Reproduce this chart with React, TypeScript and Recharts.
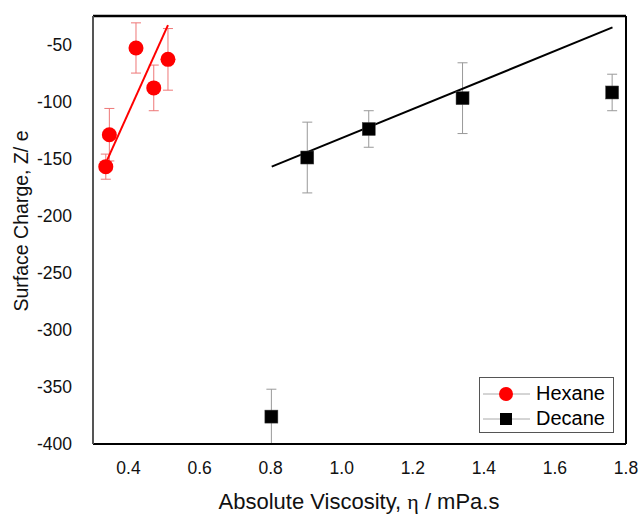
import { ComposedChart, Scatter, ErrorBar, XAxis, YAxis } from 'recharts';

const hexaneX = [0.336, 0.346, 0.421, 0.471, 0.511];
const hexaneY = [-157, -129, -53, -88, -63];
const hexaneErr = [11, 23, 22, 20, 27];

const decaneX = [0.802, 0.903, 1.076, 1.34, 1.761];
const decaneY = [-376, -149, -124, -97, -92];
const decaneErr = [24, 31, 16, 31, 16];

const hexaneFitX = [0.34, 0.511];
const hexaneFitY = [-151, -33];
const decaneFitX = [0.803, 1.762];
const decaneFitY = [-157, -35];

const xTicks = [0.4, 0.6, 0.8, 1.0, 1.2, 1.4, 1.6, 1.8];
const yTicks = [-400, -350, -300, -250, -200, -150, -100, -50];

const hexane = hexaneX.map((x, i) => ({ x, y: hexaneY[i], err: hexaneErr[i] }));
const decane = decaneX.map((x, i) => ({ x, y: decaneY[i], err: decaneErr[i] }));
const hexaneFit = hexaneFitX.map((x, i) => ({ x, y: hexaneFitY[i] }));
const decaneFit = decaneFitX.map((x, i) => ({ x, y: decaneFitY[i] }));

const font = '"Liberation Sans", Arial, sans-serif';

const Dot = (p: any) => <circle cx={p.cx} cy={p.cy} r={7.5} fill="#ff0000" />;
const Square = (p: any) => (
  <rect x={p.cx - 6.5} y={p.cy - 6.5} width={13} height={13} fill="#000" stroke="#444" strokeWidth={0.5} />
);
const NoShape = () => <g />;

function LegendBox() {
  const rows = [
    { name: 'Hexane', shape: <circle cx={24} cy={10} r={7} fill="#ff0000" /> },
    { name: 'Decane', shape: <rect x={18} y={4} width={12} height={12} fill="#000" /> },
  ];
  return (
    <div
      style={{
        position: 'absolute',
        left: 479,
        top: 377,
        width: 135,
        height: 56,
        border: '1px solid #555',
        background: '#fff',
        fontFamily: font,
        fontSize: 20,
        boxSizing: 'border-box',
        paddingTop: 3,
      }}
    >
      {rows.map((r) => (
        <div key={r.name} style={{ display: 'flex', alignItems: 'center', height: 25 }}>
          <svg width={54} height={20} style={{ marginLeft: 2 }}>
            <line x1={1} y1={10} x2={48} y2={10} stroke="#aaa" strokeWidth={1} />
            {r.shape}
          </svg>
          <span style={{ color: '#000' }}>{r.name}</span>
        </div>
      ))}
    </div>
  );
}

export default function App() {
  return (
    <div style={{ position: 'absolute', left: 0, top: 0, width: 641, height: 515, background: '#fff' }}>
      <ComposedChart width={641} height={515} margin={{ top: 15, right: 14, bottom: 0, left: 0 }}>
        <XAxis
          xAxisId="b"
          dataKey="x"
          type="number"
          domain={[0.3, 1.8]}
          ticks={xTicks}
          tickFormatter={(v: number) => v.toFixed(1)}
          tickLine={false}
          tickMargin={12}
          height={71}
          axisLine={{ stroke: '#000', strokeWidth: 2 }}
          tick={{ fill: '#111', fontSize: 17.5, fontFamily: font }}
          allowDataOverflow
          label={() => (
            <text x={359} y={509} textAnchor="middle" fill="#111" fontSize={22} fontFamily={font}>
              Absolute Viscosity, <tspan fontFamily='"Liberation Serif", serif'>η</tspan> / mPa.s
            </text>
          )}
        />
        <XAxis
          xAxisId="t"
          dataKey="x"
          orientation="top"
          type="number"
          domain={[0.3, 1.8]}
          tick={false}
          tickLine={false}
          height={1}
          allowDataOverflow
          axisLine={{ stroke: '#000', strokeWidth: 2.5 }}
        />
        <YAxis
          yAxisId="l"
          dataKey="y"
          type="number"
          domain={[-400, -25]}
          ticks={yTicks}
          tickLine={false}
          tickMargin={15}
          width={93}
          axisLine={{ stroke: '#555', strokeWidth: 2 }}
          tick={{ fill: '#111', fontSize: 17.5, fontFamily: font }}
          allowDataOverflow
          label={() => (
            <text
              x={21}
              y={221}
              transform="rotate(-90 21 221)"
              textAnchor="middle"
              dominantBaseline="central"
              fill="#111"
              fontSize={19.5}
              fontFamily={font}
            >
              Surface Charge, Z/ e
            </text>
          )}
        />
        <YAxis
          yAxisId="r"
          dataKey="y"
          orientation="right"
          type="number"
          domain={[-400, -25]}
          tick={false}
          tickLine={false}
          width={1}
          allowDataOverflow
          axisLine={{ stroke: '#000', strokeWidth: 2 }}
        />
        <Scatter xAxisId="t" yAxisId="r" data={hexaneFit} line={{ stroke: '#ff0000', strokeWidth: 2 }} shape={NoShape} isAnimationActive={false} />
        <Scatter xAxisId="b" yAxisId="l" data={decaneFit} line={{ stroke: '#000', strokeWidth: 2 }} shape={NoShape} isAnimationActive={false} />
        <Scatter xAxisId="b" yAxisId="l" data={hexane} shape={Dot} isAnimationActive={false}>
          <ErrorBar dataKey="err" direction="y" width={5} stroke="#ee7777" strokeWidth={1} isAnimationActive={false} />
        </Scatter>
        <Scatter xAxisId="b" yAxisId="l" data={decane} shape={Square} isAnimationActive={false}>
          <ErrorBar dataKey="err" direction="y" width={5} stroke="#999" strokeWidth={1} isAnimationActive={false} />
        </Scatter>
      </ComposedChart>
      <LegendBox />
    </div>
  );
}
